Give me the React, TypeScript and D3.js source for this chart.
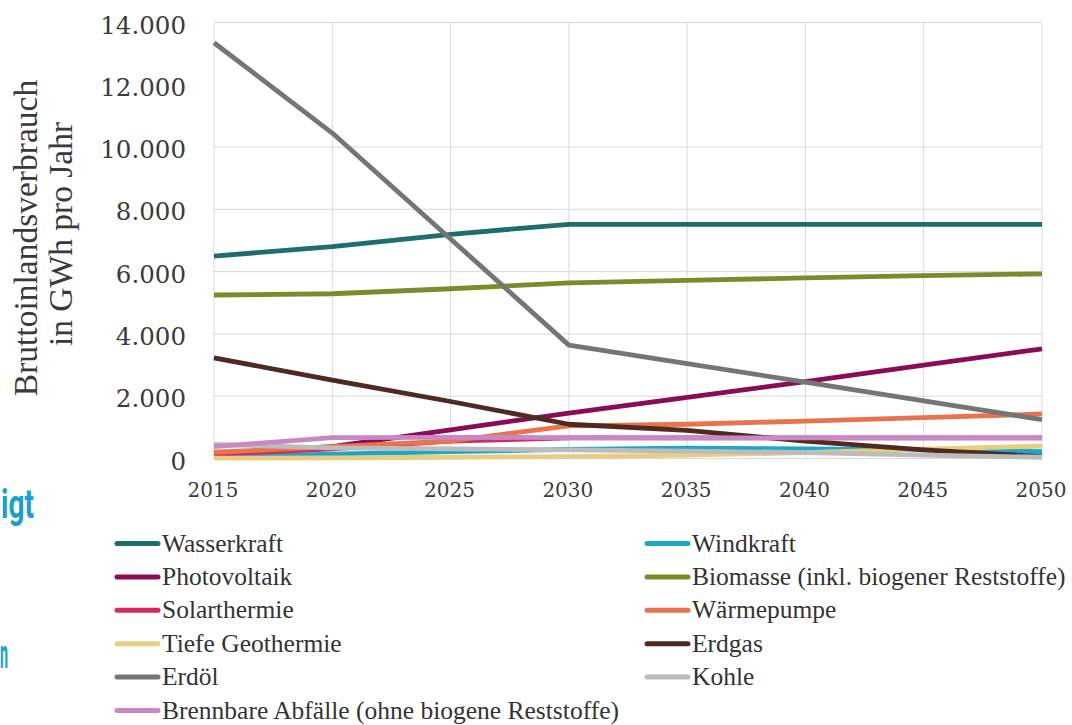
import React from "react";
import * as d3 from "d3";

const years = [2015, 2020, 2025, 2030, 2035, 2040, 2045, 2050];

const seriesNames = [
  "Wasserkraft",
  "Windkraft",
  "Photovoltaik",
  "Biomasse (inkl. biogener Reststoffe)",
  "Solarthermie",
  "Wärmepumpe",
  "Tiefe Geothermie",
  "Erdgas",
  "Erdöl",
  "Kohle",
  "Brennbare Abfälle (ohne biogene Reststoffe)",
];

const wasserkraft = [6500, 6800, 7200, 7520, 7520, 7520, 7520, 7520];
const windkraft = [60, 140, 220, 290, 330, 310, 280, 220];
const photovoltaik = [150, 380, 920, 1460, 1960, 2470, 3000, 3520];
const biomasse = [5250, 5290, 5450, 5640, 5720, 5800, 5870, 5930];
const solarthermie = [130, 310, 560, 660, 660, 660, 660, 660];
const waermepumpe = [200, 380, 560, 1050, 1100, 1200, 1310, 1430];
const tiefeGeothermie = [10, 20, 40, 60, 110, 190, 300, 400];
const erdgas = [3230, 2520, 1830, 1100, 900, 560, 280, 60];
const erdoel = [13350, 10450, 7050, 3640, 3050, 2450, 1850, 1250];
const kohle = [450, 340, 310, 280, 240, 190, 110, 40];
const brennbareAbfaelle = [380, 670, 680, 670, 660, 660, 660, 660];

const seriesValues = [
  wasserkraft,
  windkraft,
  photovoltaik,
  biomasse,
  solarthermie,
  waermepumpe,
  tiefeGeothermie,
  erdgas,
  erdoel,
  kohle,
  brennbareAbfaelle,
];

const seriesColors = [
  "#1f6d6c",
  "#1aa8c6",
  "#8a0c57",
  "#7b8b2b",
  "#d32b5f",
  "#e9734c",
  "#e8cc80",
  "#4e2a21",
  "#757575",
  "#bcbcbc",
  "#c888c3",
];

const yTicks = [0, 2000, 4000, 6000, 8000, 10000, 12000, 14000];
const yGrid = [0, 2000, 4000, 6000, 8000, 10000, 14000];
const xTicks = [2015, 2020, 2025, 2030, 2035, 2040, 2045, 2050];

const W = 1072;
const H = 725;

export default function App() {
  const x = d3.scaleLinear().domain([2015, 2050]).range([214, 1042]);
  const y = d3.scaleLinear().domain([0, 14000]).range([458.5, 22.5]);
  const fmt = d3
    .formatLocale({ decimal: ",", thousands: ".", grouping: [3], currency: ["", ""] })
    .format(",");

  const line = d3
    .line<number>()
    .x((_, i) => x(years[i]))
    .y((d) => y(d));

  const legendRowY = (i: number) => 543.5 + Math.floor(i / 2) * 33.4;
  const legendColX = (i: number) => (i % 2 === 0 ? 115 : 645);

  const serif = "'Liberation Serif', 'Times New Roman', serif";
  const numFont = "'DejaVu Serif', serif";

  return (
    <svg
      width={W}
      height={H}
      style={{ position: "absolute", left: 0, top: 0, background: "#fff" }}
    >
      <rect x={0} y={0} width={W} height={H} fill="#fff" />

      {/* partial surrounding page text */}
      <text
        x={1}
        y={518}
        fontFamily="Roboto, 'Noto Sans', sans-serif"
        fontWeight={700}
        fontSize={40}
        fill="#1aa0cf"
        transform="translate(1 0) scale(0.7 1) translate(-1 0)"
      >
        igt
      </text>
      <text
        x={0}
        y={668}
        fontFamily="Roboto, 'Noto Sans', sans-serif"
        fontWeight={700}
        fontSize={40}
        fill="#1aa0cf"
        transform="scale(0.36 1)"
      >
        n
      </text>

      {/* gridlines */}
      <g stroke="#d9d9d9" strokeWidth={1}>
        {yGrid.map((v) => (
          <line key={"gy" + v} x1={x(2015)} x2={x(2050)} y1={y(v)} y2={y(v)} />
        ))}
        {xTicks.map((v) => (
          <line key={"gx" + v} x1={x(v)} x2={x(v)} y1={y(14000)} y2={y(0)} />
        ))}
      </g>

      {/* y tick labels */}
      <g fontFamily={numFont} fontSize={24.5} fill="#3a3a3a" textAnchor="end">
        {yTicks.map((v) => (
          <text key={"ty" + v} x={186} y={y(v) + 11}>
            {fmt(v)}
          </text>
        ))}
      </g>

      {/* x tick labels */}
      <g fontFamily={numFont} fontSize={20} fill="#3a3a3a" textAnchor="middle">
        {xTicks.map((v) => (
          <text key={"tx" + v} x={x(v) - 1} y={497}>
            {v}
          </text>
        ))}
      </g>

      {/* y axis title */}
      <g fontFamily={serif} fontSize={33.5} fill="#3a3a3a" textAnchor="middle">
        <text transform="translate(37 238) rotate(-90)">Bruttoinlandsverbrauch</text>
        <text transform="translate(72 234) rotate(-90)">in GWh pro Jahr</text>
      </g>

      {/* series lines */}
      <g fill="none" strokeWidth={4.8} strokeLinejoin="round">
        {seriesValues.map((vals, i) => (
          <path key={"s" + i} d={line(vals) || ""} stroke={seriesColors[i]} />
        ))}
      </g>

      {/* legend */}
      <g fontFamily={serif} fontSize={25.5} fill="#333">
        {seriesNames.map((name, i) => (
          <g key={"l" + i}>
            <line
              x1={legendColX(i) + 2}
              x2={legendColX(i) + 43}
              y1={legendRowY(i)}
              y2={legendRowY(i)}
              stroke={seriesColors[i]}
              strokeWidth={5}
              strokeLinecap="round"
            />
            <text x={legendColX(i) + 47} y={legendRowY(i) + 8}>
              {name}
            </text>
          </g>
        ))}
      </g>
    </svg>
  );
}
